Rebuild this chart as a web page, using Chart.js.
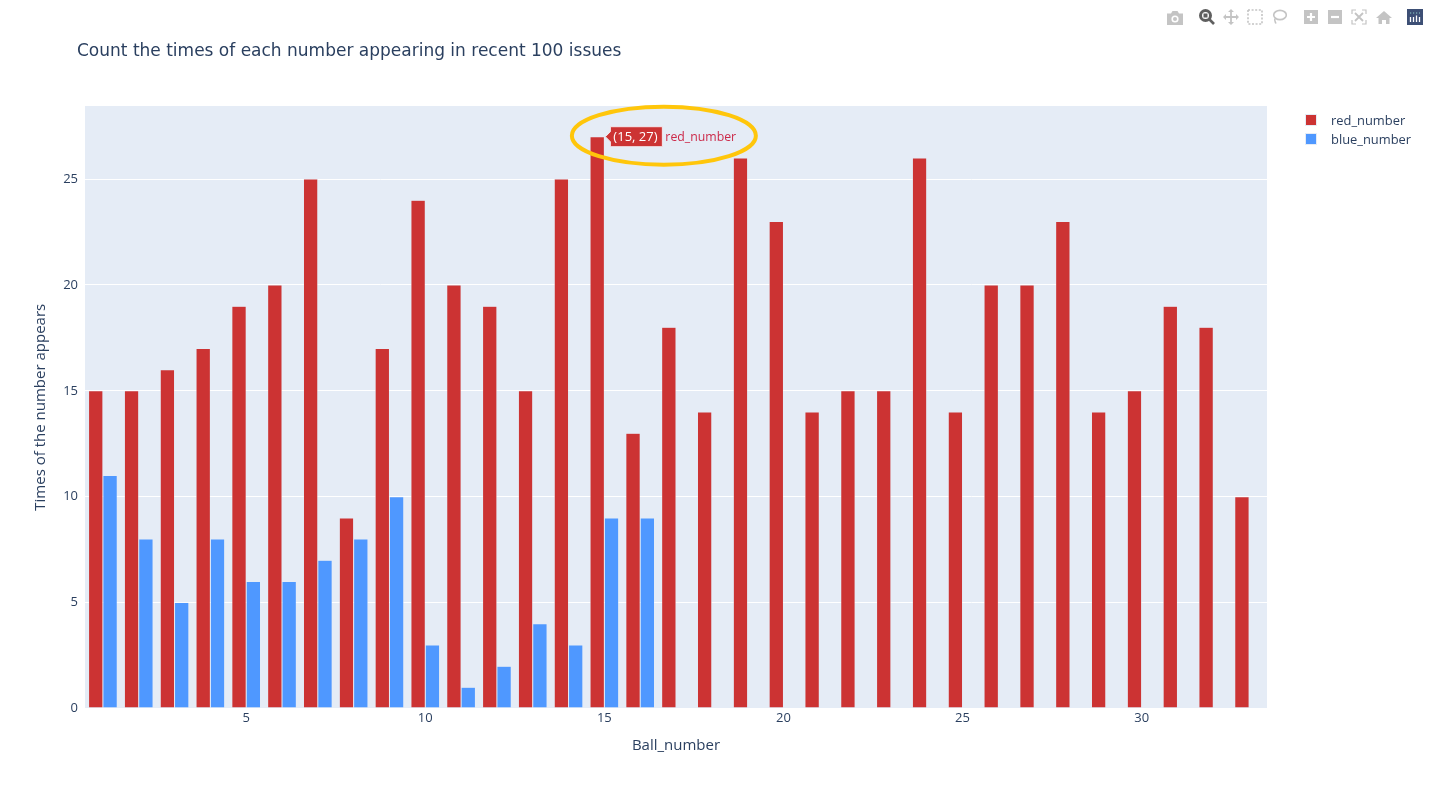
<!DOCTYPE html>
<html>
<head>
<meta charset="utf-8">
<title>Ball numbers</title>
<script src="https://cdn.jsdelivr.net/npm/chart.js@4"></script>
<style>
  html, body { margin: 0; padding: 0; background: #fff; }
  #wrap { position: relative; width: 1433px; height: 787px; overflow: hidden; font-family: "Open Sans", Verdana, Arial, sans-serif; color: #2a3f5f; }
  #chart { position: absolute; left: 0; top: 0; }
  #title { position: absolute; left: 77px; top: 39px; font: 17px "DejaVu Sans", Verdana, sans-serif; line-height: 22px; white-space: nowrap; }
  .leg { position: absolute; left: 1305px; font-size: 12.9px; line-height: 16px; white-space: nowrap; }
  .leg i { position: absolute; left: 0; top: 2px; width: 12px; height: 12px; box-sizing: border-box; border: 1px solid #e5ecf6; }
  .leg span { position: absolute; left: 26px; top: 0; }
  #modebar svg { position: absolute; top: 9px; }
</style>
</head>
<body>
<div id="wrap">
  <canvas id="chart" width="1433" height="787"></canvas>
  <div id="title"></div>
  <div class="leg" style="top:112px"><i id="boxRed"></i><span id="nameRed"></span></div>
  <div class="leg" style="top:131px"><i id="boxBlue"></i><span id="nameBlue"></span></div>
  <div id="modebar">
    <svg style="left:1167px" width="16" height="16" viewBox="0 0 16 16"><path fill="#c4c4c4" d="M0 4.5h4L5.5 2h5L12 4.5h4V16H0z"/><circle cx="8" cy="10" r="3.6" fill="#fff"/><circle cx="8" cy="10" r="2" fill="#c4c4c4"/></svg>
    <svg style="left:1199px" width="16" height="16" viewBox="0 0 16 16"><circle cx="6.5" cy="6.5" r="5" fill="none" stroke="#5f5f5f" stroke-width="3"/><rect x="4.5" y="4.5" width="4" height="4" fill="#5f5f5f"/><path d="M10 10l5 5" stroke="#5f5f5f" stroke-width="2.6"/></svg>
    <svg style="left:1223px" width="16" height="16" viewBox="0 0 16 16"><path fill="none" stroke="#c4c4c4" stroke-width="1.8" d="M8 1v14M1 8h14"/><path fill="#c4c4c4" d="M8 0l3 3H5zM8 16l3-3H5zM0 8l3-3v6zM16 8l-3-3v6z"/></svg>
    <svg style="left:1247px" width="16" height="16" viewBox="0 0 16 16"><rect x="1" y="1" width="14" height="14" fill="none" stroke="#c4c4c4" stroke-width="1.6" stroke-dasharray="2 1.6"/></svg>
    <svg style="left:1271px" width="16" height="16" viewBox="0 0 16 16"><ellipse cx="9" cy="6" rx="6.3" ry="4.6" fill="none" stroke="#c4c4c4" stroke-width="1.6"/><path d="M4 9.5c-1 2 0 3 1 5" fill="none" stroke="#c4c4c4" stroke-width="1.6"/></svg>
    <svg style="left:1304px" width="14" height="16" viewBox="0 0 14 16"><rect y="1" width="14" height="14" fill="#c4c4c4"/><path d="M3 8h8M7 4v8" stroke="#fff" stroke-width="2.2"/></svg>
    <svg style="left:1328px" width="14" height="16" viewBox="0 0 14 16"><rect y="1" width="14" height="14" fill="#c4c4c4"/><path d="M3 8h8" stroke="#fff" stroke-width="2.2"/></svg>
    <svg style="left:1351px" width="16" height="16" viewBox="0 0 16 16"><path fill="none" stroke="#c4c4c4" stroke-width="1.2" d="M1 5V1h4M11 1h4v4M15 11v4h-4M5 15H1v-4"/><path stroke="#c4c4c4" stroke-width="1.8" d="M4 4l8 8M12 4l-8 8"/></svg>
    <svg style="left:1376px" width="16" height="16" viewBox="0 0 16 16"><path fill="#c4c4c4" d="M8 2L0 9h2.5v6H6v-4h4v4h3.5V9H16z"/></svg>
    <svg style="left:1407px" width="16" height="16" viewBox="0 0 16 16"><rect width="16" height="16" fill="#3d4f75"/><path stroke="#fff" stroke-width="1.3" d="M3.5 8v5M6.5 8v5M9.5 6.5v6.5M12.5 8v5"/><path stroke="#8fd0c8" stroke-width="1.2" stroke-dasharray="1.2 1.8" d="M3 4h10"/></svg>
  </div>
</div>
<script>
const chartTitle = "Count the times of each number appearing in recent 100 issues";
const xTitle = "Ball_number";
const yTitle = "Times of the number appears";
const ballNumbers = [1,2,3,4,5,6,7,8,9,10,11,12,13,14,15,16,17,18,19,20,21,22,23,24,25,26,27,28,29,30,31,32,33];
const redNumber = [15,15,16,17,19,20,25,9,17,24,20,19,15,25,27,13,18,14,26,23,14,15,15,26,14,20,20,23,14,15,19,18,10];
const blueNumber = [11,8,5,8,6,6,7,8,10,3,1,2,4,3,9,9];
const hoverIndex = 14;

const RED = "#cc3333";
const BLUE = "#4f98ff";
const INK = "#2a3f5f";
const FONT = '"Open Sans", Verdana, Arial, sans-serif';

document.getElementById("title").textContent = chartTitle;
document.getElementById("nameRed").textContent = "red_number";
document.getElementById("nameBlue").textContent = "blue_number";
document.getElementById("boxRed").style.background = RED;
document.getElementById("boxBlue").style.background = BLUE;

// plot background sits under the gridlines
const plotBackground = {
  id: "plotBackground",
  beforeDraw(chart) {
    const a = chart.chartArea;
    chart.ctx.save();
    chart.ctx.fillStyle = "#e5ecf6";
    chart.ctx.fillRect(a.left, a.top, a.right - a.left, a.bottom - a.top);
    chart.ctx.restore();
  },
};

// hover label on the bar for 15, plus the yellow ring drawn around it
const hoverNote = {
  id: "hoverNote",
  afterDraw(chart) {
    const bar = chart.getDatasetMeta(0).data[hoverIndex];
    const ctx = chart.ctx;
    const tipX = bar.x + bar.width / 2 + 1;
    const tipY = bar.y;
    const text = "(" + ballNumbers[hoverIndex] + ", " + redNumber[hoverIndex] + ")";
    ctx.save();
    ctx.fillStyle = RED;
    ctx.strokeStyle = "#f3e9ee";
    ctx.beginPath();
    ctx.moveTo(tipX, tipY);
    ctx.lineTo(tipX + 5, tipY - 5);
    ctx.lineTo(tipX + 5, tipY - 10);
    ctx.lineTo(tipX + 57, tipY - 10);
    ctx.lineTo(tipX + 57, tipY + 10);
    ctx.lineTo(tipX + 5, tipY + 10);
    ctx.lineTo(tipX + 5, tipY + 5);
    ctx.closePath();
    ctx.fill();
    ctx.stroke();
    ctx.textBaseline = "middle";
    ctx.font = "13px " + FONT;
    ctx.fillStyle = "#fff";
    ctx.fillText(text, tipX + 8, tipY + 1);
    ctx.font = "12.3px " + FONT;
    ctx.fillStyle = "#cc2a4a";
    ctx.fillText("red_number", tipX + 60, tipY + 1);
    ctx.strokeStyle = "#ffc60b";
    ctx.lineWidth = 4;
    ctx.beginPath();
    ctx.ellipse(tipX + 58.5, tipY - 1, 92, 29, 0, 0, Math.PI * 2);
    ctx.stroke();
    ctx.restore();
  },
};

new Chart(document.getElementById("chart"), {
  type: "bar",
  data: {
    labels: ballNumbers,
    datasets: [
      { label: "red_number", data: redNumber, backgroundColor: RED, borderColor: "#e5ecf6", borderWidth: 0.5 },
      { label: "blue_number", data: blueNumber, backgroundColor: BLUE, borderColor: "#e5ecf6", borderWidth: 0.5 },
    ],
  },
  options: {
    responsive: false,
    animation: false,
    events: [],
    layout: { padding: { left: 32, right: 166, top: 106, bottom: 32 } },
    datasets: { bar: { categoryPercentage: 0.8, barPercentage: 1 } },
    plugins: { legend: { display: false }, tooltip: { enabled: false } },
    scales: {
      x: {
        grid: { display: false, drawTicks: false, tickLength: 0 },
        border: { display: false },
        ticks: {
          autoSkip: false,
          maxRotation: 0,
          padding: 2,
          color: INK,
          font: { family: FONT, size: 13 },
          callback(v) {
            const n = this.getLabelForValue(v);
            return n % 5 === 0 ? n : "";
          },
        },
        title: { display: true, text: xTitle, color: INK, font: { family: FONT, size: 15 }, padding: 0 },
        afterFit(s) { s.height = 46.5; },
      },
      y: {
        min: 0,
        max: 28.45,
        grid: {
          color: "#fff",
          drawTicks: false,
          lineWidth: (c) => (c.tick && c.tick.value === 0 ? 2 : 1),
        },
        border: { display: false },
        ticks: {
          stepSize: 5,
          includeBounds: false,
          padding: 7,
          color: INK,
          font: { family: FONT, size: 13 },
        },
        title: { display: true, text: yTitle, color: INK, font: { family: FONT, size: 15 }, padding: 0 },
        afterFit(s) { s.width = 53; },
      },
    },
  },
  plugins: [plotBackground, hoverNote],
});
</script>
</body>
</html>
